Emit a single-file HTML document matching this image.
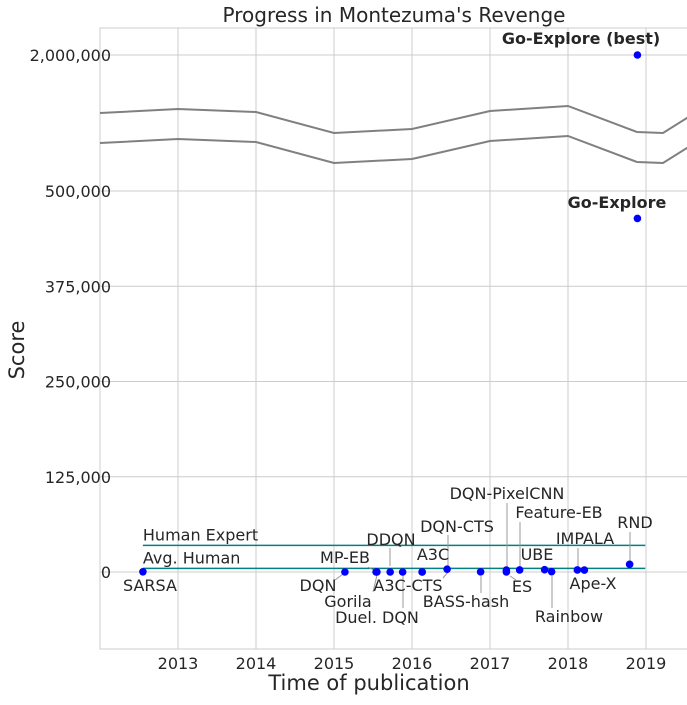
<!DOCTYPE html>
<html><head><meta charset="utf-8"><style>
body{margin:0;background:#fff}
svg{font-family:"DejaVu Sans","Liberation Sans",sans-serif}
text{fill:#262626}
</style></head><body>
<svg id="c" width="687" height="700" xmlns="http://www.w3.org/2000/svg"></svg>
<script>
const years=[2013,2014,2015,2016,2017,2018,2019];
const yTicks=[0,125000,250000,375000,500000,2000000];
const yTickLabels=["0","125,000","250,000","375,000","500,000","2,000,000"];
const names=["SARSA","DQN","Gorila","MP-EB","DDQN","Duel. DQN","A3C-CTS","A3C","DQN-CTS","BASS-hash","ES","DQN-PixelCNN","Feature-EB","UBE","Rainbow","IMPALA","Ape-X","RND","Go-Explore","Go-Explore (best)"];
const dates=[2012.55,2015.14,2015.54,2015.55,2015.72,2015.88,2016.13,2016.13,2016.45,2016.88,2017.21,2017.21,2017.38,2017.70,2017.79,2018.12,2018.21,2018.79,2018.89,2018.89];
const scores=[259,0,4,142,0,0,1,67,3705,238,0,2514,2745,3000,384,2643,2500,10070,464000,2000000];
const humanExpert=34900, avgHuman=4753;
const humanStart=2012.55, humanEnd=2018.99;
// label layout (pixels, not data)
const labelPos=[[150,591],[318,591],[348,607],[345,563],[391,545],[377,623],[408,591],[433,560],[457,532],[466,607],[522,592],[507,499],[559,518],[537,560],[569,622],[585,544],[593,589],[635,528],[617,208],[581,44]];
const conns=[null,[335,580,343,574],[373,592,377,575],[368,567,375,571],[390,548,390,566],[403,574,403,608],[443,578,448,572],null,[448,535,448,568],[481,576,481,593],[510,576,516,580],[507,503,507,568],[520,522,520,567],null,[552,576,552,608],[578,548,578,568],null,[630,532,630,562],null,null];

const L=100,R=687,T=28,B=649;
const sx=t=>178+(t-2013)*78;
const sy=v=>v<=500000?572-v*(381/500000):191-(v-500000)*(136/1500000);
const svg=document.getElementById('c');
const NS="http://www.w3.org/2000/svg";
function mk(tag,a,parent){const e=document.createElementNS(NS,tag);for(const k in a)e.setAttribute(k,a[k]);(parent||svg).appendChild(e);return e;}

let e=mk('rect',{x:L,y:T,width:R-L+2,height:B-T,fill:'#fff',stroke:'#ccc'});


years.forEach(y=>{
  let g=mk('line',{x1:sx(y),x2:sx(y),y1:T,y2:B,stroke:'#ccc'});
  
  
  let t=mk('text',{x:sx(y),y:669,'text-anchor':'middle','font-size':16});t.textContent=y;
  
  
});
yTicks.forEach((v,i)=>{
  let g=mk('line',{x1:L,x2:R,y1:sy(v),y2:sy(v),stroke:'#ccc'});
  
  
  let t=mk('text',{x:110,y:sy(v)+6,'text-anchor':'end','font-size':16,transform:'translate(0,0)'});t.textContent=yTickLabels[i];
  t.setAttribute('x',110);
  t.setAttribute('x',110-0);
  t.setAttribute('x',111);
  
  
});
const br=[[100,113],[178,109],[256,112],[334,133],[412,129],[490,111],[568,106],[637,132],[663,133],[690,116]];
[0,30].forEach(o=>{
  let p=mk('polyline',{points:br.map(q=>q[0]+','+(q[1]+o)).join(' '),fill:'none',stroke:'#808080','stroke-width':2});
  
  
});
[[humanExpert,'Human Expert','human-expert-line'],[avgHuman,'Avg. Human','avg-human-line']].forEach(h=>{
  let l=mk('line',{x1:sx(humanStart),x2:sx(humanEnd),y1:sy(h[0]),y2:sy(h[0]),stroke:'#008080','stroke-width':1.5});
  
  
  let t=mk('text',{x:sx(humanStart),y:sy(h[0])-5,'font-size':16});t.textContent=h[1];
  
  
});
conns.forEach(c=>{if(!c)return;
  let l=mk('line',{x1:c[0],y1:c[1],x2:c[2],y2:c[3],stroke:'#999','stroke-width':1});
  
  
});
names.forEach((n,i)=>{
  let c=mk('circle',{cx:sx(dates[i]),cy:sy(scores[i]),r:3.8,fill:'#0000ff'});
  
  
  const bold=i>=18;
  let t=mk('text',{x:labelPos[i][0],y:labelPos[i][1],'text-anchor':'middle','font-size':16,'font-weight':bold?'bold':'normal'});
  t.textContent=n;
  
  
});
let t=mk('text',{x:394,y:22,'text-anchor':'middle','font-size':20});t.textContent="Progress in Montezuma's Revenge";


t=mk('text',{x:369,y:690,'text-anchor':'middle','font-size':21});t.textContent="Time of publication";


t=mk('text',{x:24,y:350,'text-anchor':'middle','font-size':21,transform:'rotate(-90 24 350)'});t.textContent="Score";


</script>
</body></html>
